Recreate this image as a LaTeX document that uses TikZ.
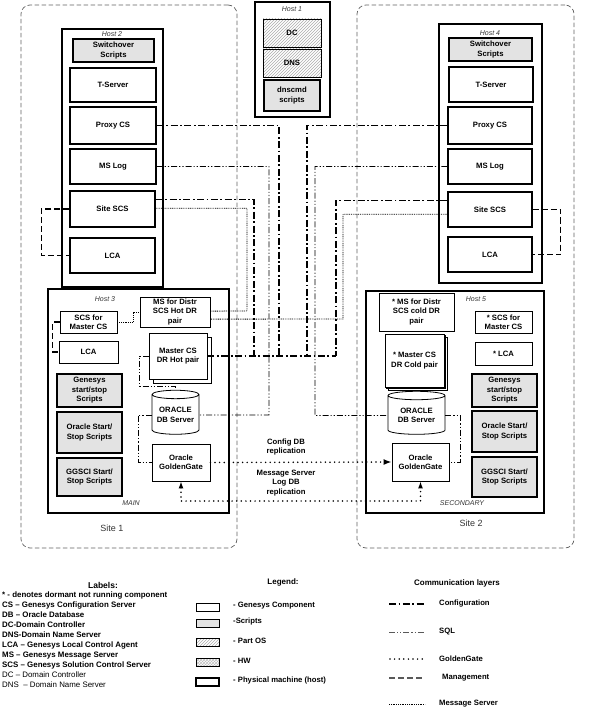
\documentclass[tikz,border=0pt]{standalone}
\usepackage{fontspec}
\setmainfont{Liberation Sans}
\usetikzlibrary{arrows.meta,calc,positioning,patterns,shapes.geometric,shadows}

\newcommand{\cmpfont}{\fontsize{7.7}{9.4}\selectfont\bfseries}
\newcommand{\hostfont}{\fontsize{7}{7.5}\selectfont\itshape}

\tikzset{
  site/.style={draw=gray!75!black, line width=0.7pt, dash pattern=on 4.5pt off 2.5pt, rounded corners=9pt},
  hostbox/.style={draw, line width=1.9pt},
  comp/.style={draw, line width=0.8pt, fill=white, align=center, inner sep=0.5pt, font=\cmpfont},
  bigcomp/.style={comp, line width=1.4pt},
  script/.style={comp, line width=1.2pt, fill=gray!22},
  osbox/.style={comp, pattern=north east lines, pattern color=gray!65},
  hostlabel/.style={font=\hostfont, text=black!80, inner sep=0pt},
  sitelabel/.style={font=\fontsize{9}{10}\selectfont, text=black!80, inner sep=0pt},
  note/.style={font=\cmpfont, align=center, inner sep=0pt},
  cfgline/.style={line width=1.5pt, dash pattern=on 7pt off 2.5pt on 1.8pt off 2.5pt},
  sqlline/.style={line width=0.9pt, dash pattern=on 6pt off 2pt on 1.2pt off 2pt on 1.2pt off 2pt},
  ggline/.style={line width=1.7pt, line cap=round, dash pattern=on 0pt off 4.6pt},
  mgmtline/.style={line width=1.1pt, dash pattern=on 6pt off 3pt},
  msline/.style={line width=0.9pt, dash pattern=on 0.9pt off 0.9pt},
}

\begin{document}
\begin{tikzpicture}[x=1pt, y=-1pt, font=\cmpfont, >=Latex]
  \useasboundingbox (0,0) rectangle (600,711);

  % The two sites.
  \node[site, minimum width=216pt, minimum height=543pt] (site1) at (129,276.5) {};
  \node[site, minimum width=217pt, minimum height=543pt] (site2) at (465.5,276.5) {};
  \node[sitelabel] (site1lbl) at (112,528) {Site 1};
  \node[sitelabel] (site2lbl) at (471,523) {Site 2};

  % Host 1: domain services.
  \node[hostbox, minimum width=75pt, minimum height=115pt] (host1) at (292.5,59.5) {};
  \node[hostlabel] (host1lbl) at (292,9) {Host 1};
  \node[osbox, minimum width=58pt, minimum height=28pt] (dc) at (292,33) {DC};
  \node[osbox, minimum width=58pt, minimum height=28pt] (dns) at (292,63) {DNS};
  \node[script, minimum width=56pt, minimum height=31pt] (dnscmd) at (292,95.5) {dnscmd\\scripts};

  % Host 2 and Host 4: T-Server stacks.
  \node[hostbox, minimum width=101pt, minimum height=258pt] (host2) at (112.5,158) {};
  \node[hostlabel] (host2lbl) at (112,34) {Host 2};
  \node[script, minimum width=81pt, minimum height=23pt] (sw2) at (113.5,50.5) {Switchover\\Scripts};
  \node[bigcomp, minimum width=86pt, minimum height=34pt] (ts2) at (113,85) {T-Server};
  \node[bigcomp, minimum width=86pt, minimum height=37pt] (pcs2) at (113,125.5) {Proxy CS};
  \node[bigcomp, minimum width=86pt, minimum height=35pt] (msl2) at (113,166.5) {MS Log};
  \node[bigcomp, minimum width=85pt, minimum height=36pt] (scs2) at (112.5,209) {Site SCS};
  \node[bigcomp, minimum width=85pt, minimum height=35pt] (lca2) at (112.5,255.5) {LCA};

  \node[hostbox, minimum width=103pt, minimum height=259pt] (host4) at (490.5,153.5) {};
  \node[hostlabel] (host4lbl) at (490,33) {Host 4};
  \node[script, minimum width=83pt, minimum height=23pt] (sw4) at (490.5,49.5) {Switchover\\Scripts};
  \node[bigcomp, minimum width=84pt, minimum height=35pt] (ts4) at (491,84.5) {T-Server};
  \node[bigcomp, minimum width=84pt, minimum height=37pt] (pcs4) at (490,125.5) {Proxy CS};
  \node[bigcomp, minimum width=84pt, minimum height=35pt] (msl4) at (490,166.5) {MS Log};
  \node[bigcomp, minimum width=84pt, minimum height=35pt] (scs4) at (490,209.5) {Site SCS};
  \node[bigcomp, minimum width=84pt, minimum height=35pt] (lca4) at (490,254.5) {LCA};

  % Host 3: main configuration server and database.
  \node[hostbox, minimum width=181pt, minimum height=224pt] (host3) at (138.5,401) {};
  \node[hostlabel] (host3lbl) at (105,299) {Host 3};
  \node[comp, minimum width=57pt, minimum height=22pt] (scsm3) at (88.5,322) {SCS for\\Master CS};
  \node[comp, minimum width=59pt, minimum height=22pt] (lca3) at (88.5,352) {LCA};
  \node[script, minimum width=65pt, minimum height=33pt] (gss3) at (89.5,390.5) {Genesys\\start/stop\\Scripts};
  \node[script, minimum width=65pt, minimum height=41pt] (oss3) at (89.5,432.5) {Oracle Start/\\Stop Scripts};
  \node[script, minimum width=65pt, minimum height=38pt] (ggs3) at (89.5,477) {GGSCI Start/\\Stop Scripts};
  \node[comp, minimum width=70pt, minimum height=30pt] (msd3) at (175,312) {MS for Distr\\SCS Hot DR\\pair};
  \node[comp, copy shadow={shadow xshift=4pt, shadow yshift=-4pt},
    minimum width=58pt, minimum height=46pt] (mcs3) at (178,356) {Master CS\\DR Hot pair};
  \node[comp, cylinder, shape border rotate=90, aspect=0.22,
    minimum width=47pt, minimum height=44pt] (db3) at (175.5,415) {ORACLE\\DB Server};
  \node[comp, minimum width=58pt, minimum height=37pt] (gg3) at (181,462.5) {Oracle\\GoldenGate};
  \node[hostlabel] (mainlbl) at (131,503) {MAIN};

  % Host 5: secondary, dormant copies.
  \node[hostbox, minimum width=178pt, minimum height=222pt] (host5) at (455,402) {};
  \node[hostlabel] (host5lbl) at (476,299) {Host 5};
  \node[comp, minimum width=75pt, minimum height=38pt] (msd5) at (416.5,312) {* MS for Distr\\SCS cold DR\\pair};
  \node[comp, double copy shadow={shadow xshift=1.8pt, shadow yshift=-1.8pt},
    minimum width=59pt, minimum height=53pt] (mcs5) at (414.5,360.5) {* Master CS\\DR Cold pair};
  \node[comp, minimum width=57pt, minimum height=22pt] (scsm5) at (503.5,322) {* SCS for\\Master CS};
  \node[comp, minimum width=57pt, minimum height=23pt] (lca5) at (503.5,353.5) {* LCA};
  \node[script, minimum width=65pt, minimum height=33pt] (gss5) at (504.5,390.5) {Genesys\\start/stop\\Scripts};
  \node[script, minimum width=65pt, minimum height=41pt] (oss5) at (504.5,431.5) {Oracle Start/\\Stop Scripts};
  \node[script, minimum width=65pt, minimum height=40pt] (ggs5) at (504.5,477) {GGSCI Start/\\Stop Scripts};
  \node[comp, cylinder, shape border rotate=90, aspect=0.22,
    minimum width=57pt, minimum height=43pt] (db5) at (416.5,415.5) {ORACLE\\DB Server};
  \node[comp, minimum width=57pt, minimum height=38pt] (gg5) at (420.5,462) {Oracle\\GoldenGate};
  \node[hostlabel] (seclbl) at (462,503) {SECONDARY};

  % Junction points of the routed links.
  \coordinate (cfgA) at (279,356);
  \coordinate (cfgB) at (307,356);
  \coordinate (cfgC) at (254,356);
  \coordinate (cfgE) at (336,356);
  \coordinate (sqlA) at (269,415);
  \coordinate (sqlB) at (315,415.5);
  \coordinate (sqlC) at (139,386);
  \coordinate (sqlD) at (138,462.5);
  \coordinate (sqlE) at (460,462);
  \coordinate (msA) at (247,311);
  \coordinate (msB) at (343,319);
  \coordinate (msC) at (133,312);
  \coordinate (ggA) at (300,501);

  % Configuration layer.
  \draw[cfgline] (mcs3.east) -- (cfgE);
  \draw[cfgline] (pcs2.east) -| (cfgA);
  \draw[cfgline] (pcs4.west) -| (cfgB);
  \draw[cfgline] ($(scs2.north east)!0.25!(scs2.south east)$) -| (cfgC);
  \draw[cfgline] ($(scs4.north west)!0.25!(scs4.south west)$) -| (cfgE);

  % SQL layer.
  \draw[sqlline] (msl2.east) -| (sqlA) -- (db3.east);
  \draw[sqlline] (msl4.west) -| (sqlB) -- (db5.west);
  \draw[sqlline] (mcs3.west) -| (sqlC) -| (db3.north);
  \draw[sqlline] (db3.west) -| (sqlD) -- (gg3.west);
  \draw[sqlline] (db5.east) -| (sqlE) -- (gg5.east);

  % Message server layer.
  \draw[msline] ($(scs2.north east)!0.48!(scs2.south east)$) -| (msA)
    -- ($(msd3.north east)!0.47!(msd3.south east)$);
  \draw[msline] ($(scs4.north west)!0.63!(scs4.south west)$) -| (msB)
    -- ($(msd3.north east)!0.73!(msd3.south east)$);
  \draw[msline] (scsm3.east) -| (msC) -- (msd3.west);

  % Management layer.
  \draw[mgmtline] (scs2.west) -- ++(-28,0) |- (lca2.west);
  \draw[mgmtline] (scs4.east) -- ++(28,0) |- (lca4.east);
  \draw[mgmtline] (scsm3.west) -- ++(-7,0) |- (lca3.west);

  % GoldenGate replication.
  \draw[ggline, -{Latex[length=8pt, width=6pt]}] (gg3.east) -- (gg5.west);
  \draw[ggline, {Latex[length=7pt, width=5pt]}-{Latex[length=7pt, width=5pt]}]
    (gg3.south) |- (ggA) -| (gg5.south);
  \node[note] (cfgrepl) at (286,447) {Config DB\\replication};
  \node[note] (msrepl) at (286,483) {Message Server\\Log DB\\replication};

  % Labels.
  \node[font=\fontsize{8.5}{9}\selectfont\bfseries, inner sep=0pt] (labelstitle) at (103,585) {Labels:};
  \node[anchor=north west, align=left, inner sep=0pt, font=\fontsize{7.9}{9.9}\selectfont\bfseries]
    (labeltext) at (2,592)
    {* - denotes dormant not running component\\
     CS -- Genesys Configuration Server\\
     DB -- Oracle Database\\
     DC-Domain Controller\\
     DNS-Domain Name Server\\
     LCA -- Genesys Local Control Agent\\
     MS -- Genesys Message Server\\
     SCS -- Genesys Solution Control Server\\
     {\mdseries DC -- Domain Controller}\\
     {\mdseries DNS \ -- Domain Name Server}};

  % Legend.
  \node[font=\fontsize{8}{9}\selectfont\bfseries, inner sep=0pt] (legendtitle) at (283,582) {Legend:};
  \node[draw, line width=0.6pt, minimum width=23pt, minimum height=8pt] (keycomp) at (207.5,607) {};
  \node[draw, line width=0.6pt, fill=gray!22, minimum width=23pt, minimum height=8pt] (keyscript) at (207.5,623) {};
  \node[draw, line width=0.6pt, pattern=north east lines, pattern color=gray!65,
    minimum width=23pt, minimum height=8pt] (keyos) at (207.5,642) {};
  \node[draw, line width=0.6pt, pattern=crosshatch, pattern color=gray!50,
    minimum width=23pt, minimum height=8pt] (keyhw) at (207.5,662) {};
  \node[draw, line width=1.4pt, minimum width=23pt, minimum height=8pt] (keyhost) at (207.5,682) {};
  \node[anchor=west, inner sep=0pt] (keycomptxt) at (233,606) {- Genesys Component};
  \node[anchor=west, inner sep=0pt] (keyscripttxt) at (233,622) {-Scripts};
  \node[anchor=west, inner sep=0pt] (keyostxt) at (233,641) {- Part OS};
  \node[anchor=west, inner sep=0pt] (keyhwtxt) at (233,661) {- HW};
  \node[anchor=west, inner sep=0pt] (keyhosttxt) at (233,681) {- Physical machine (host)};

  % Communication layers.
  \node[font=\fontsize{8}{9}\selectfont\bfseries, inner sep=0pt] (layerstitle) at (457,583) {Communication layers};
  \draw[cfgline] (389,604) -- (425,604);
  \draw[sqlline, gray!70!black] (389,632) -- (425,632);
  \draw[ggline] (390,659) -- (425,659);
  \draw[mgmtline, gray!70!black] (389,678) -- (425,678);
  \draw[msline] (389,704) -- (425,704);
  \node[anchor=west, inner sep=0pt] (cfgtxt) at (439,604) {Configuration};
  \node[anchor=west, inner sep=0pt] (sqltxt) at (439,632) {SQL};
  \node[anchor=west, inner sep=0pt] (ggtxt) at (439,659) {GoldenGate};
  \node[anchor=west, inner sep=0pt] (mgmttxt) at (442,678) {Management};
  \node[anchor=west, inner sep=0pt] (mstxt) at (439,704) {Message Server};
\end{tikzpicture}
\end{document}
